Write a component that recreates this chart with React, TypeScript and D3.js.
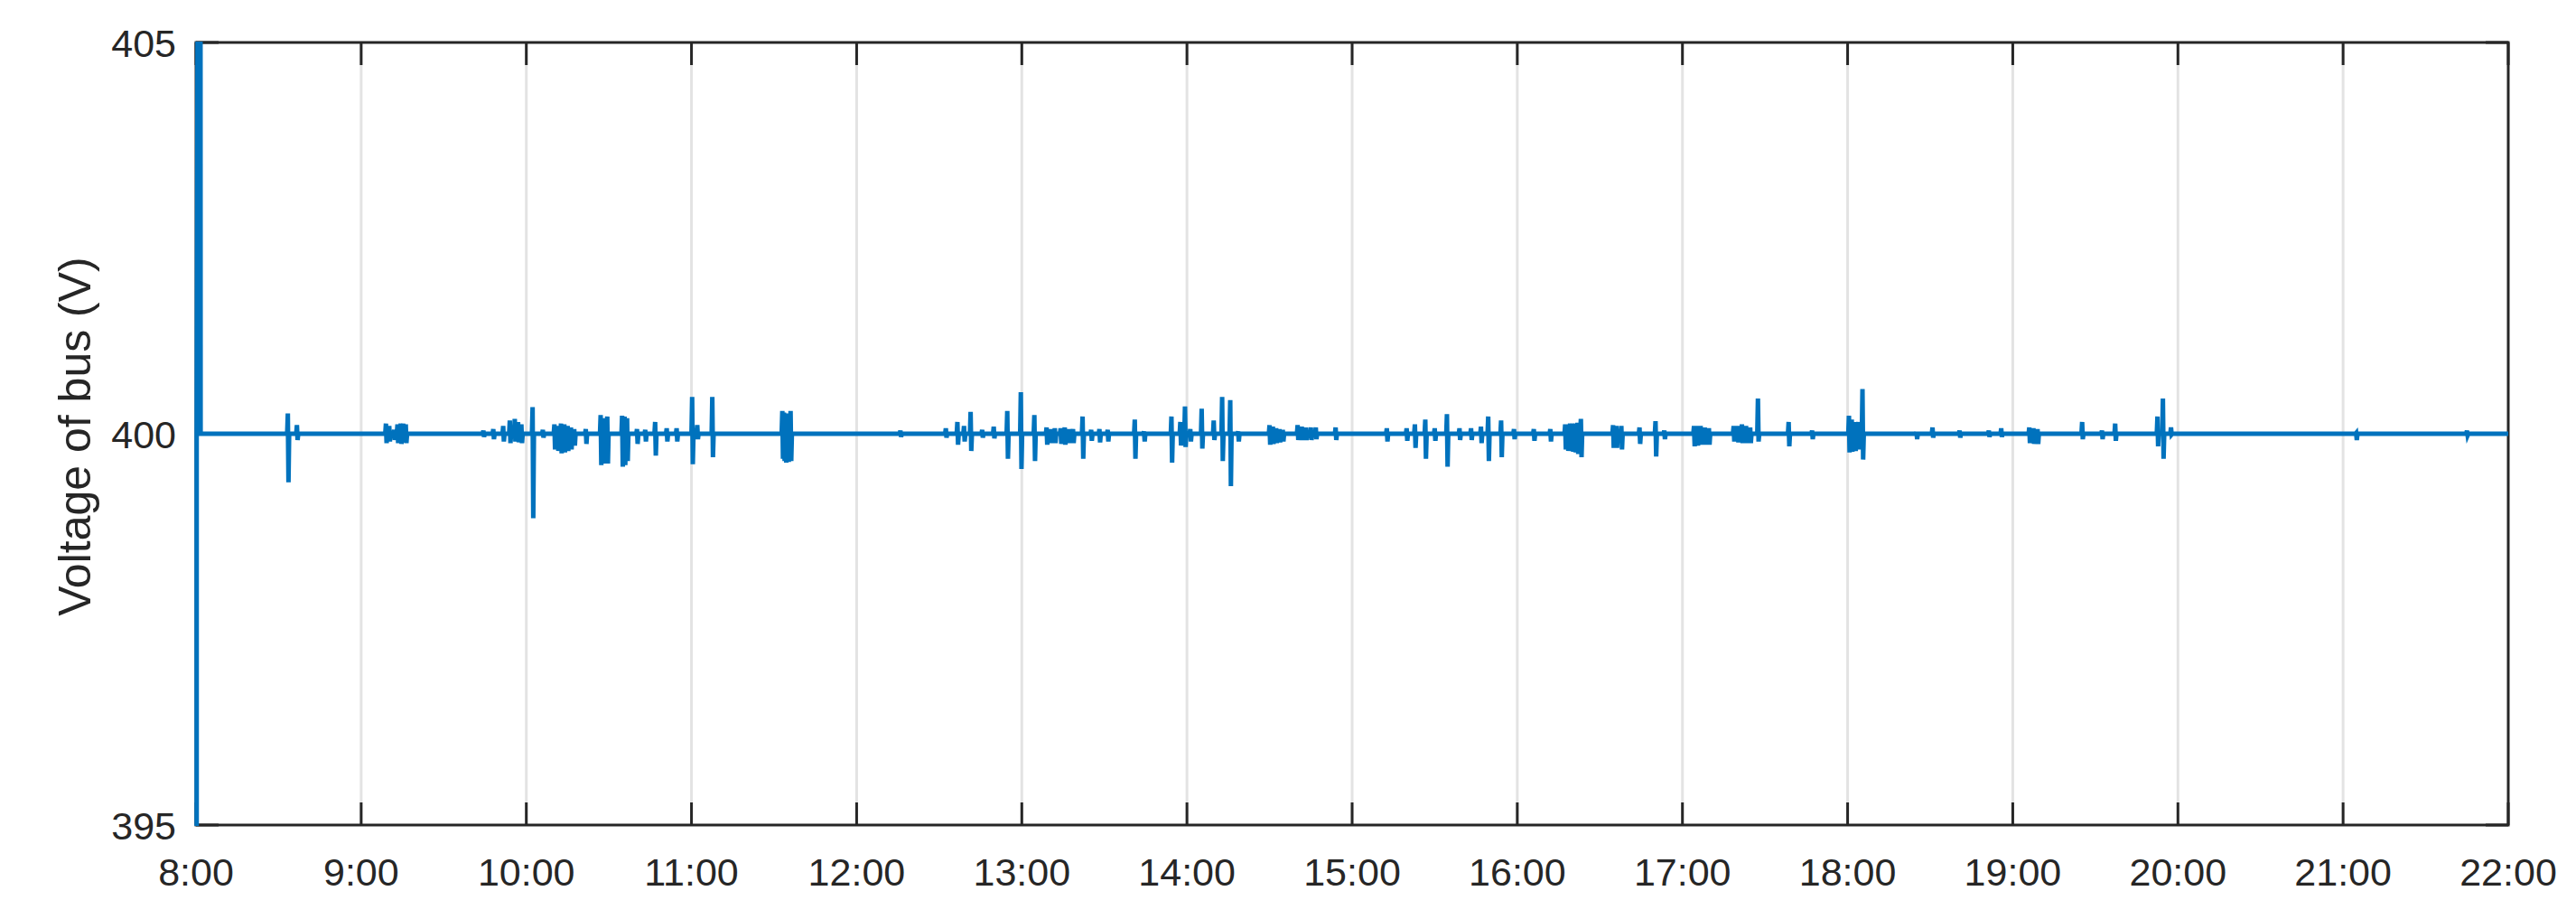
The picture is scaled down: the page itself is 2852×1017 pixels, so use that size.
import { useRef, useEffect } from "react";
import * as d3 from "d3";

// hour ticks on x axis
const hourTicks = [8, 9, 10, 11, 12, 13, 14, 15, 16, 17, 18, 19, 20, 21, 22];
const hourLabels = hourTicks.map((h) => `${h}:00`);
const voltTicks = [395, 400, 405];

// start-up transient (goes off the scale at both ends)
const startTimes = [8.0, 8.004, 8.004, 8.025, 8.028];
const startValues = [380, 380, 400, 420, 400];

// disturbance spikes: time (hours), peak high, peak low
const spikeTimes = [
  8.556, 8.611, 9.15, 9.2, 9.24, 9.27, 9.74, 9.8, 9.86, 9.9, 9.93, 9.97,
  10.038, 10.1, 10.17, 10.21, 10.25, 10.29, 10.36, 10.45, 10.49, 10.58, 10.61,
  10.67, 10.72, 10.78, 10.85, 10.91, 11.004, 11.035, 11.126, 11.55, 11.57, 11.6,
  12.265, 12.54, 12.61, 12.69, 12.76, 12.83, 12.912, 12.994, 13.076, 13.15, 13.2,
  13.26, 13.31, 13.368, 13.42, 13.47, 13.52, 13.684, 13.74, 13.906, 13.96,
  13.988, 14.02, 14.089, 14.162, 14.213, 14.262, 14.31, 14.5, 14.54, 14.58,
  14.67, 14.72, 14.78, 14.9, 15.21, 15.33, 15.38, 15.443, 15.5, 15.574, 15.65,
  15.72, 15.78, 15.824, 15.902, 15.98, 16.1, 16.2, 16.29, 16.32, 16.35, 16.385,
  16.58, 16.63, 16.74, 16.837, 16.89, 17.07, 17.11, 17.16, 17.31, 17.36, 17.41,
  17.457, 17.643, 17.785, 18.008, 18.045, 18.09, 18.417, 18.514, 18.678, 18.855,
  18.93, 19.1, 19.15, 19.42, 19.54, 19.62, 19.876, 19.909, 19.958, 21.079, 21.75,
];
const spikeHigh = [
  400.26, 400.11, 400.13, 400.05, 400.13, 400.12, 400.04, 400.06, 400.1, 400.17,
  400.19, 400.12, 400.34, 400.05, 400.12, 400.13, 400.1, 400.06, 400.06, 400.24,
  400.22, 400.23, 400.2, 400.06, 400.05, 400.15, 400.07, 400.07, 400.47, 400.11,
  400.47, 400.29, 400.25, 400.29, 400.04, 400.07, 400.15, 400.28, 400.05, 400.09,
  400.29, 400.53, 400.24, 400.08, 400.07, 400.08, 400.06, 400.22, 400.05, 400.06,
  400.05, 400.18, 400.03, 400.22, 400.15, 400.35, 400.06, 400.32, 400.17, 400.47,
  400.43, 400.03, 400.11, 400.07, 400.05, 400.11, 400.08, 400.08, 400.08, 400.07,
  400.07, 400.12, 400.18, 400.07, 400.25, 400.07, 400.07, 400.09, 400.22, 400.17,
  400.06, 400.06, 400.06, 400.12, 400.13, 400.13, 400.19, 400.11, 400.1, 400.08,
  400.16, 400.04, 400.1, 400.1, 400.07, 400.1, 400.12, 400.08, 400.45, 400.15,
  400.04, 400.23, 400.15, 400.57, 400.02, 400.08, 400.04, 400.04, 400.07, 400.08,
  400.06, 400.15, 400.04, 400.13, 400.22, 400.45, 400.08, 400.01, 400.04,
];
const spikeLow = [
  399.38, 399.92, 399.88, 399.92, 399.87, 399.88, 399.96, 399.93, 399.9, 399.88,
  399.9, 399.88, 398.92, 399.95, 399.8, 399.75, 399.78, 399.85, 399.87, 399.6,
  399.62, 399.58, 399.65, 399.87, 399.9, 399.72, 399.9, 399.9, 399.61, 399.93,
  399.7, 399.68, 399.63, 399.65, 399.96, 399.95, 399.86, 399.78, 399.95, 399.94,
  399.68, 399.55, 399.65, 399.86, 399.88, 399.86, 399.88, 399.68, 399.91, 399.89,
  399.9, 399.68, 399.9, 399.63, 399.85, 399.83, 399.9, 399.81, 399.92, 399.65,
  399.33, 399.9, 399.86, 399.88, 399.9, 399.92, 399.92, 399.93, 399.92, 399.9,
  399.91, 399.82, 399.68, 399.91, 399.58, 399.92, 399.92, 399.88, 399.65, 399.7,
  399.93, 399.91, 399.9, 399.8, 399.78, 399.76, 399.7, 399.82, 399.8, 399.87,
  399.71, 399.93, 399.84, 399.86, 399.86, 399.9, 399.88, 399.88, 399.9, 399.84,
  399.93, 399.76, 399.78, 399.67, 399.93, 399.95, 399.95, 399.96, 399.96, 399.88,
  399.87, 399.93, 399.93, 399.91, 399.84, 399.68, 399.99, 399.92, 399.98,
];

// extra oscillations inside the dense bursts
const burstTimes = [
  9.17, 9.22, 9.255, 9.95, 10.19, 10.23, 10.27, 10.47, 10.595, 11.56, 11.585,
  12.65, 13.175, 13.235, 13.285, 14.52, 14.56, 14.695, 14.75, 16.305, 16.335,
  16.365, 16.6, 17.09, 17.135, 17.335, 17.385, 18.025, 18.065, 19.125,
];
const burstHigh = [
  400.1, 400.12, 400.13, 400.15, 400.1, 400.12, 400.08, 400.2, 400.22, 400.27,
  400.26, 400.1, 400.06, 400.07, 400.06, 400.09, 400.06, 400.09, 400.08, 400.12,
  400.13, 400.14, 400.1, 400.1, 400.08, 400.1, 400.1, 400.18, 400.15, 400.07,
];
const burstLow = [
  399.9, 399.88, 399.89, 399.89, 399.78, 399.76, 399.8, 399.62, 399.6, 399.65,
  399.64, 399.9, 399.88, 399.87, 399.88, 399.87, 399.89, 399.92, 399.92, 399.78,
  399.77, 399.74, 399.82, 399.85, 399.86, 399.89, 399.88, 399.77, 399.8, 399.87,
];
const endTime = 22;
const nominal = 400;

const VoltageChart = () => {
  const svgRef = useRef(null);

  useEffect(() => {
    const W = 2852;
    const H = 1017;
    const m = { left: 217, right: 2777, top: 47, bottom: 913 };
    const dark = "#262626";
    const font = "'Liberation Sans', Arial, Helvetica, sans-serif";

    const svg = d3.select(svgRef.current).attr("width", W).attr("height", H);
    svg.selectAll("*").remove();

    const x = d3.scaleLinear().domain([8, 22]).range([m.left, m.right]);
    const y = d3.scaleLinear().domain([395, 405]).range([m.bottom, m.top]);

    // merge spikes + bursts, in time order
    const events = spikeTimes
      .map((t, i) => [t, spikeHigh[i], spikeLow[i]])
      .concat(burstTimes.map((t, i) => [t, burstHigh[i], burstLow[i]]))
      .sort((a, b) => a[0] - b[0]);

    const data = startTimes.map((t, i) => [t, startValues[i]]);
    events.forEach(([t, hi, lo]) => {
      data.push([t - 0.004, nominal]);
      data.push([t, hi]);
      data.push([t + 0.004, lo]);
      data.push([t + 0.008, nominal]);
    });
    data.push([endTime, nominal]);

    // clip a little wider than the box, like matlab does
    svg
      .append("clipPath")
      .attr("id", "plotclip")
      .append("rect")
      .attr("x", m.left - 4)
      .attr("y", m.top - 1)
      .attr("width", m.right - m.left + 4)
      .attr("height", m.bottom - m.top + 2);

    // grid
    svg
      .append("g")
      .selectAll("line")
      .data(hourTicks.slice(1, -1))
      .join("line")
      .attr("x1", (d) => x(d))
      .attr("x2", (d) => x(d))
      .attr("y1", m.top)
      .attr("y2", m.bottom)
      .attr("stroke", "#e3e3e3")
      .attr("stroke-width", 3);

    // ticks (inward, bottom and top)
    const tl = 25;
    const tg = svg.append("g").attr("stroke", dark).attr("stroke-width", 3);
    hourTicks.forEach((h) => {
      tg.append("line").attr("x1", x(h)).attr("x2", x(h)).attr("y1", m.bottom).attr("y2", m.bottom - tl);
      tg.append("line").attr("x1", x(h)).attr("x2", x(h)).attr("y1", m.top).attr("y2", m.top + tl);
    });
    voltTicks.forEach((v) => {
      tg.append("line").attr("x1", m.left).attr("x2", m.left + tl).attr("y1", y(v)).attr("y2", y(v));
      tg.append("line").attr("x1", m.right).attr("x2", m.right - tl).attr("y1", y(v)).attr("y2", y(v));
    });

    // box
    svg
      .append("rect")
      .attr("x", m.left)
      .attr("y", m.top)
      .attr("width", m.right - m.left)
      .attr("height", m.bottom - m.top)
      .attr("fill", "none")
      .attr("stroke", dark)
      .attr("stroke-width", 3);

    // data line sits above the axes (matlab layer bottom)
    const line = d3
      .line()
      .x((d) => x(d[0]))
      .y((d) => y(d[1]));

    svg
      .append("path")
      .datum(data)
      .attr("clip-path", "url(#plotclip)")
      .attr("d", line)
      .attr("fill", "none")
      .attr("stroke", "#0072BD")
      .attr("stroke-width", 5)
      .attr("stroke-linejoin", "miter");

    // tick labels
    svg
      .append("g")
      .selectAll("text")
      .data(hourTicks)
      .join("text")
      .attr("x", (d) => x(d))
      .attr("y", m.bottom + 67)
      .attr("text-anchor", "middle")
      .style("font-family", font)
      .style("font-size", "43px")
      .style("fill", dark)
      .text((d, i) => hourLabels[i]);

    svg
      .append("g")
      .selectAll("text")
      .data(voltTicks)
      .join("text")
      .attr("x", m.left - 22)
      .attr("y", (d) => y(d))
      .attr("dy", "0.38em")
      .attr("text-anchor", "end")
      .style("font-family", font)
      .style("font-size", "43px")
      .style("fill", dark)
      .text((d) => d);

    svg
      .append("text")
      .attr("transform", `translate(100, ${(m.top + m.bottom) / 2 + 3}) rotate(-90)`)
      .attr("text-anchor", "middle")
      .style("font-family", font)
      .style("font-size", "50px")
      .style("fill", dark)
      .text("Voltage of bus (V)");
  }, []);

  return (
    <svg
      ref={svgRef}
      style={{ position: "absolute", left: 0, top: 0, background: "#fff" }}
    ></svg>
  );
};

export default function App() {
  return <VoltageChart />;
}
